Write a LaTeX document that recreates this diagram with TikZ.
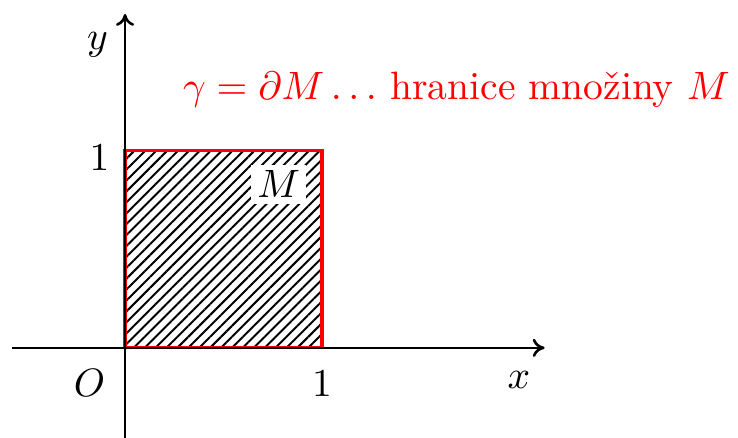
\documentclass[tikz,border=0pt]{standalone}
\usetikzlibrary{patterns.meta,arrows.meta}
\begin{document}
\begin{tikzpicture}[x=1.75cm,y=1.75cm,
  axis/.style={-{To[length=3pt,width=4.6pt,line width=0.65pt]},line width=0.45pt},
  lbl/.style={inner sep=1pt},
  boundary/.style={red,line width=0.8pt}]
\useasboundingbox (-0.635,-0.457) rectangle (3.112,1.766);
\fill[pattern={Lines[angle=45,distance=1.95pt,line width=0.5pt]}] (0,0) rectangle (1,1);
\node[fill=white,inner sep=1.5pt] (M) at (0.78,0.83) {$M$};
\draw[boundary] (0,0) rectangle (1,1);
\coordinate (xs) at (-0.574,0);
\coordinate (xe) at (2.13,0);
\coordinate (ys) at (0,-0.46);
\coordinate (ye) at (0,1.695);
\draw[axis] (xs) -- (xe);
\draw[axis] (ys) -- (ye);
\node[lbl] (xl) at (2.0,-0.165) {$x$};
\node[lbl] (yl) at (-0.14,1.54) {$y$};
\node[lbl] (O) at (-0.18,-0.18) {$O$};
\node[lbl] (x1) at (1,-0.18) {$1$};
\node[lbl] (y1) at (-0.13,0.965) {$1$};
\node[lbl,red,anchor=west] (g) at (0.27,1.31) {$\gamma=\partial M\dots$ hranice množiny $M$};
\end{tikzpicture}
\end{document}
